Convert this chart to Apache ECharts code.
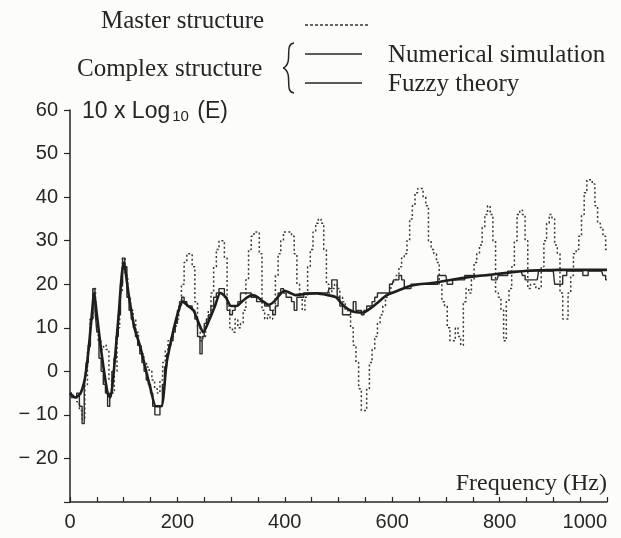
<!DOCTYPE html>
<html>
<head>
<meta charset="utf-8">
<script src="https://cdn.jsdelivr.net/npm/echarts@6/dist/echarts.min.js"></script>
<style>
html,body{margin:0;padding:0;background:#fcfcfa;}
#chart{width:621px;height:538px;}
</style>
</head>
<body>
<div id="chart"></div>
<script>
// ---- Data ----
const masterFreq = [0,5,10,15,20,25,30,35,40,45,50,55,60,65,70,75,80,85,90,95,100,105,110,115,120,125,130,135,140,145,150,155,160,165,170,175,180,185,190,195,200,205,210,215,220,225,230,235,240,245,250,255,260,265,270,275,280,285,290,295,300,305,310,315,320,325,330,335,340,345,350,355,360,365,370,375,380,385,390,395,400,405,410,415,420,425,430,435,440,445,450,455,460,465,470,475,480,485,490,495,500,505,510,515,520,525,530,535,540,545,550,555,560,565,570,575,580,585,590,595,600,605,610,615,620,625,630,635,640,645,650,655,660,665,670,675,680,685,690,695,700,705,710,715,720,725,730,735,740,745,750,755,760,765,770,775,780,785,790,795,800,805,810,815,820,825,830,835,840,845,850,855,860,865,870,875,880,885,890,895,900,905,910,915,920,925,930,935,940,945,950,955,960,965,970,975,980,985,990,995,1000];
const masterVal = [-5,-5,-6,-7,-9,-11,-3,5,12,19,
  12,7,5,6,5,-2,-5,0,10,18,
  26,22,17,14,12,9,6,4,2,1,
  0,-2,-4,-5,-2,2,5,7,8,10,
  12,15,20,25,27,27,24,16,10,7,
  8,11,14,18,24,28,30,30,26,15,
  10,9,12,10,11,14,21,28,31,32,
  32,27,14,12,13,12,14,22,27,30,
  32,32,32,31,27,20,17,14,17,24,
  28,32,34,35,34,28,20,18,19,20,
  19,17,16,14,13,10,6,2,-4,-9,
  -9,-4,2,5,8,11,13,15,17,18,
  20,21,22,24,26,27,30,35,38,41,
  42,42,40,38,30,28,27,25,20,16,
  15,10,7,7,10,8,6,16,19,18,
  21,25,27,29,33,36,38,36,30,18,
  17,14,7,16,19,24,30,36,37,36,
  30,19,20,20,19,19,24,30,34,36,
  35,29,27,18,12,12,18,22,27,28,
  31,36,41,44,44,43,38,34,33,31,
  28];

const numFreq = [0,5,10,15,20,25,28,32,36,40,45,48,52,56,60,64,68,72,76,80,84,88,92,96,100,104,108,112,116,120,124,128,132,136,140,144,148,152,156,160,165,170,174,178,182,186,190,194,198,202,206,210,215,220,225,230,235,240,244,248,252,256,260,265,270,275,280,285,290,295,300,305,310,315,320,325,330,335,340,345,350,355,360,365,370,375,380,385,390,395,400,405,410,415,420,425,430,440,450,460,470,480,485,490,495,500,505,510,515,520,525,530,535,540,545,550,555,560,565,570,575,580,585,590,600,605,610,615,620,625,630,640,650,660,670,680,690,695,700,705,710,715,720,730,740,750,760,770,780,790,795,800,810,820,830,840,845,850,860,870,875,880,890,900,905,910,915,920,930,940,950,960,970,980,990,995,1000];
const numVal = [-5,-6,-6,-5,-8,-12, -4,2,6,12, 19,14,9,3,0, -3,-5,-8,-5,0,
  3,8,13,20,26, 24,17,14,12,10, 8,6,4,2,0, -2,-3,-5,-8,-10,
  -10,-8,-3,1,4, 6,7,9,11,14, 16,17,16,15,15, 14,12,8,4,8,
  11,12,13,15,17, 18,19,19,17,14, 13,14,15,16,18, 18,18,18,17,17,
  16,16,16,15,15, 14,13,15,18,19, 18,17,17,16,14, 17,17,18,18,18,
  18,18,19,21,21, 17,15,13,13,13, 14,16,14,14,13, 14,15,15,16,17,
  18,18,18,18,20, 21,21,22,21,19, 19,20,20,20,20, 20,22,22,22,20,
  20,21,21,21,22, 22,22,22,22,21, 21,22,22,23,23, 23,22,21,21,21,
  23,23,23,23,20, 20,20,22,23,23, 23,22,23,23,23, 22,21];

const fuzzyFreq = [0,10,20,30,40,45,50,60,70,75,80,90,100,110,120,130,140,150,160,170,180,190,200,210,220,230,240,248,260,270,280,290,300,310,320,330,340,350,360,370,380,390,400,410,420,440,460,480,495,510,525,545,560,575,590,610,630,650,670,700,730,760,790,820,850,880,910,950,1000];
const fuzzyVal = [-5,-6,-5,0,12, 18,13,3,-5,-6, -2,12,25,17,10, 6,1,-4,-8,-8,
  2,8,13,16,15, 14,11,9,12,15, 18,17,15,15,16, 17,17.5,17,16,15.3,
  16,17.5,18.5,18,17.5, 17.8,17.9,17.5,17,15, 13.8,13.5,14.5,16,17.5,
  18.5,19.5,20,20.2,20.8, 21.4,21.9,22.3,22.7,23.1, 23.2,23.3,23.3,23.3];

const xTickLabels = [0,200,400,600,800,1000];
const yTickLabels = [-20,-10,0,10,20,30,40,50,60];
const legendNames = ['Master structure','Complex structure','Numerical simulation','Fuzzy theory'];

function pairs(xs, ys){ const n=Math.min(xs.length, ys.length); const out=[]; for(let i=0;i<n;i++) out.push([xs[i], ys[i]]); return out; }

const INK = '#262626';
const SERIF = '"Liberation Serif","Times New Roman",serif';
const SANS = '"Liberation Sans",Arial,sans-serif';
const LF = '25px ' + SERIF;

const chart = echarts.init(document.getElementById('chart'), null, {renderer:'canvas'});
chart.setOption({
  backgroundColor: '#fcfcfa',
  animation: false,
  grid: {left: 70, right: 14, top: 110, bottom: 36, containLabel: false, outerBoundsMode: 'none'},
  xAxis: {
    type: 'value', min: 0, max: 1000, interval: 50,
    name: 'Frequency (Hz)', nameLocation: 'end', nameGap: 0,
    nameTextStyle: {fontFamily: SERIF, fontSize: 24, color: INK, align: 'right', verticalAlign: 'bottom', padding: [0, 0, 6, 0]},
    axisLine: {onZero: false, lineStyle: {color: INK, width: 1.5}},
    axisTick: {inside: true, length: 5, lineStyle: {color: INK, width: 1.2}},
    axisLabel: {fontFamily: SANS, fontSize: 20, color: INK, margin: 10, alignMaxLabel: 'right',
      formatter: v => xTickLabels.indexOf(v) >= 0 ? String(v) : ''},
    splitLine: {show: false}
  },
  yAxis: {
    type: 'value', min: -30, max: 60, interval: 10,
    name: '{a|10 x Log}{s|10}{a| (E)}', nameLocation: 'end', nameGap: -2,
    nameTextStyle: {align: 'left', verticalAlign: 'middle', padding: [0, 0, 0, 12],
      rich: {a: {fontFamily: SANS, fontSize: 23, color: INK},
             s: {fontFamily: SANS, fontSize: 15, color: INK, verticalAlign: 'bottom', padding: [9, 2, 0, 2]}}},
    axisLine: {onZero: false, lineStyle: {color: INK, width: 1.5}},
    axisTick: {inside: false, length: 6, lineStyle: {color: INK, width: 1.2}},
    axisLabel: {fontFamily: SANS, fontSize: 20, color: INK, margin: 12,
      formatter: v => yTickLabels.indexOf(v) >= 0 ? (v < 0 ? '\u2212 ' + Math.abs(v) : String(v)) : ''},
    splitLine: {show: false}
  },
  series: [
    {name: legendNames[0], type: 'line', step: 'middle', showSymbol: false, z: 2,
     data: pairs(masterFreq, masterVal),
     lineStyle: {color: '#383838', width: 1.5, type: [2, 2.5]}},
    {name: legendNames[2], type: 'line', step: 'middle', showSymbol: false, z: 3,
     data: pairs(numFreq, numVal),
     lineStyle: {color: '#2c2c2c', width: 1.4}},
    {name: legendNames[3], type: 'line', smooth: 0.25, showSymbol: false, z: 4,
     data: pairs(fuzzyFreq, fuzzyVal),
     lineStyle: {color: '#1e1e1e', width: 2.6}}
  ],
  graphic: [
    {type: 'text', style: {text: legendNames[0], x: 101, y: 21, font: LF, fill: INK, verticalAlign: 'middle'}},
    {type: 'line', shape: {x1: 305, y1: 25, x2: 369, y2: 25}, style: {stroke: '#333', lineWidth: 1.3, lineDash: [3, 2]}},
    {type: 'text', style: {text: legendNames[1], x: 77, y: 69, font: LF, fill: INK, verticalAlign: 'middle'}},
    {type: 'bezierCurve', shape: {x1: 294, y1: 43, x2: 288, y2: 62, cpx1: 286, cpy1: 44, cpx2: 290, cpy2: 55}, style: {stroke: INK, lineWidth: 1.5, fill: null}},
    {type: 'bezierCurve', shape: {x1: 288, y1: 62, x2: 283, y2: 68, cpx1: 287, cpy1: 66, cpx2: 284, cpy2: 68}, style: {stroke: INK, lineWidth: 1.5, fill: null}},
    {type: 'bezierCurve', shape: {x1: 283, y1: 68, x2: 288, y2: 74, cpx1: 284, cpy1: 68, cpx2: 287, cpy2: 70}, style: {stroke: INK, lineWidth: 1.5, fill: null}},
    {type: 'bezierCurve', shape: {x1: 288, y1: 74, x2: 294, y2: 93, cpx1: 290, cpy1: 81, cpx2: 286, cpy2: 92}, style: {stroke: INK, lineWidth: 1.5, fill: null}},
    {type: 'line', shape: {x1: 305, y1: 54, x2: 362, y2: 54}, style: {stroke: INK, lineWidth: 1.3}},
    {type: 'line', shape: {x1: 305, y1: 83, x2: 362, y2: 83}, style: {stroke: INK, lineWidth: 1.6}},
    {type: 'text', style: {text: legendNames[2], x: 388, y: 55, font: LF, fill: INK, verticalAlign: 'middle'}},
    {type: 'text', style: {text: legendNames[3], x: 388, y: 84, font: LF, fill: INK, verticalAlign: 'middle'}}
  ]
});
</script>
</body>
</html>
